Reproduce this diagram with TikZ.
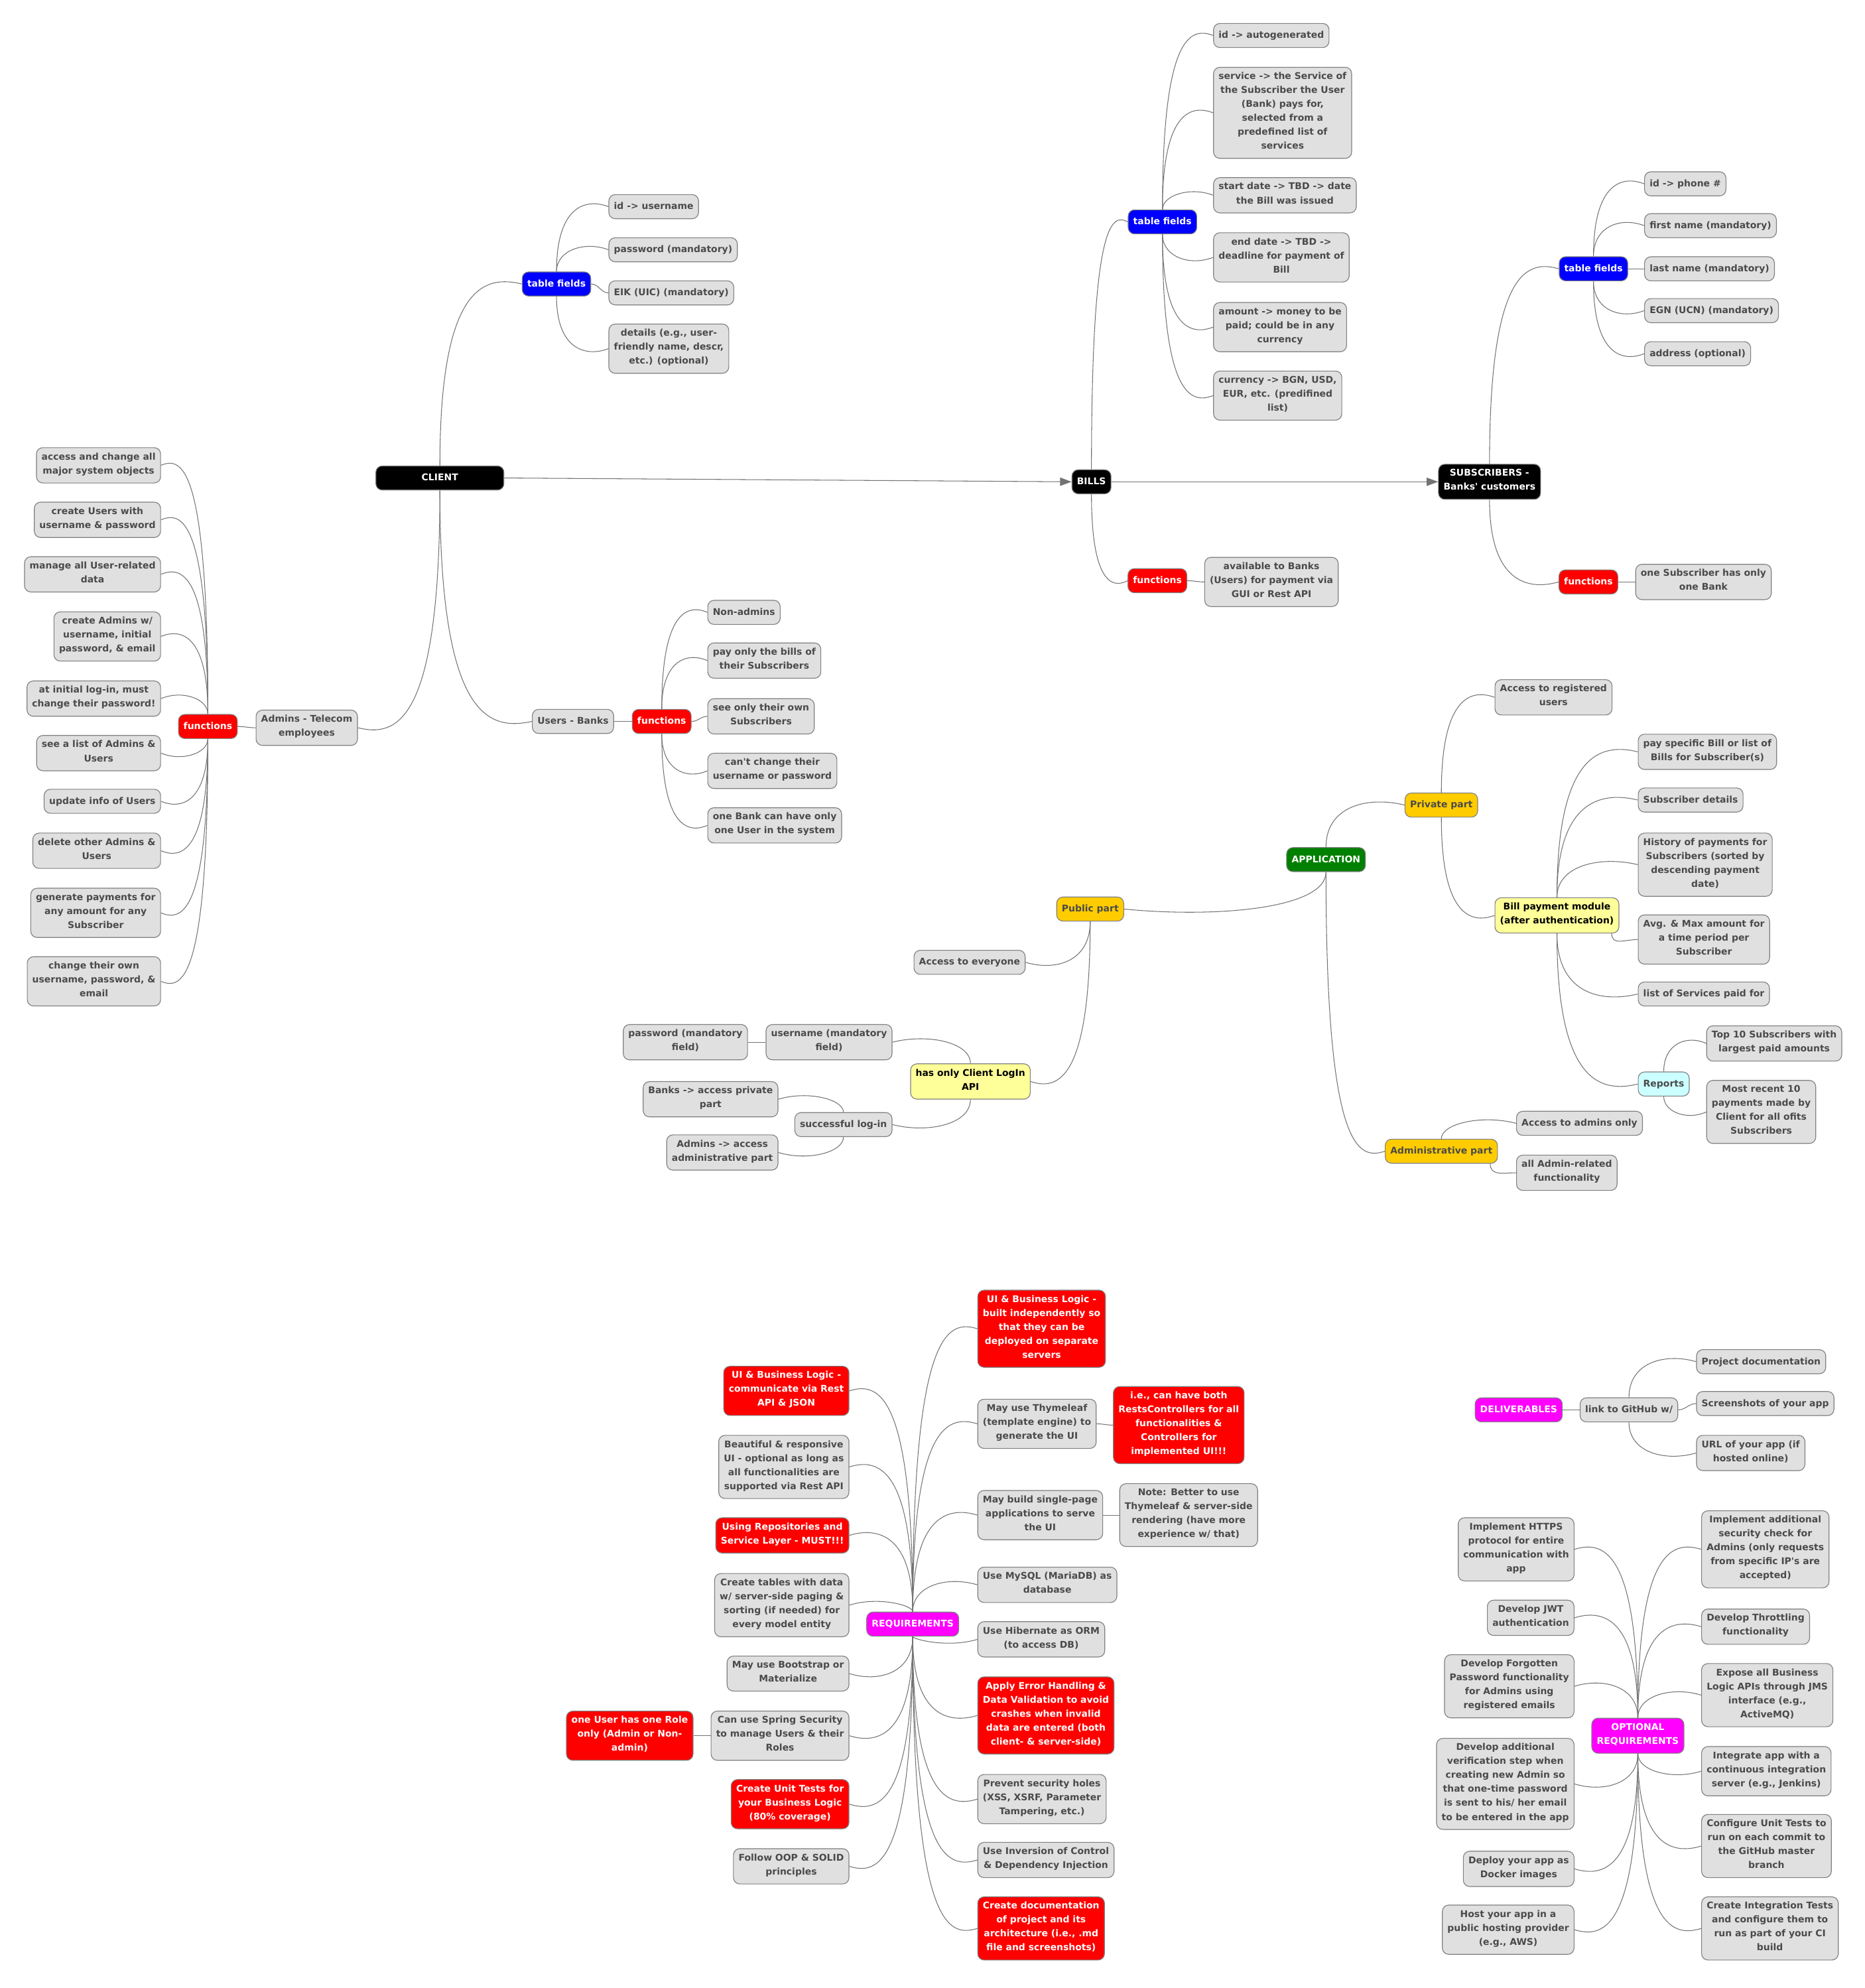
\documentclass[tikz,border=0pt]{standalone}
\usepackage{fontspec}
\setmainfont{DejaVu Sans}
\usetikzlibrary{arrows.meta,calc}

\definecolor{leafgray}{HTML}{E0E0E0}
\definecolor{edgegray}{HTML}{737373}
\definecolor{inkgray}{HTML}{4A4A4A}
\definecolor{gold}{HTML}{FFCC00}
\definecolor{paleyellow}{HTML}{FFFF99}
\definecolor{palecyan}{HTML}{CCFFFF}
\definecolor{appgreen}{HTML}{008000}
\definecolor{hotpink}{HTML}{FF00FF}

\newcommand{\mapfont}{\fontsize{7.3}{11}\selectfont\bfseries}
% curved twigs: parent #1, child #2
\newcommand{\twigNE}[2]{\draw[twig] (#1.north) .. controls (#1.north |- #2.west) and ($(#2.west)!0.45!(#1.north |- #2.west)+(0,-7)$) .. (#2.west);}
\newcommand{\twigSE}[2]{\draw[twig] (#1.south) .. controls (#1.south |- #2.west) and ($(#2.west)!0.45!(#1.south |- #2.west)+(0,7)$) .. (#2.west);}
\newcommand{\twigNW}[2]{\draw[twig] (#1.north) .. controls (#1.north |- #2.east) and ($(#2.east)!0.45!(#1.north |- #2.east)+(0,-7)$) .. (#2.east);}
\newcommand{\twigSW}[2]{\draw[twig] (#1.south) .. controls (#1.south |- #2.east) and ($(#2.east)!0.45!(#1.south |- #2.east)+(0,7)$) .. (#2.east);}
\newcommand{\twigE}[2]{\draw[twig] (#1.east) to[out=0,in=180] (#2.west);}
\newcommand{\twigW}[2]{\draw[twig] (#1.west) to[out=180,in=0] (#2.east);}
\newcommand{\twigC}[2]{\draw[twig] ([xshift=-6pt]#1.south east) .. controls +(0,10) and +(-10,0) .. (#2.west);}

\begin{document}
\begin{tikzpicture}[x=1pt, y=-1pt,
  every node/.style={font=\mapfont, align=center},
  leaf/.style={draw=gray, line width=0.6pt, rounded corners=5pt, inner xsep=4pt, inner ysep=4pt, fill=leafgray, text=inkgray,
    execute at begin node=\strut, execute at end node=\strut},
  rootbox/.style={leaf, fill=black, text=white},
  fieldbox/.style={leaf, fill=blue, text=white},
  funcbox/.style={leaf, fill=red, text=white},
  mustbox/.style={leaf, fill=red, text=white},
  partbox/.style={leaf, fill=gold},
  notebox/.style={leaf, fill=paleyellow, text=black},
  reportbox/.style={leaf, fill=palecyan},
  topicbox/.style={leaf, fill=hotpink, text=white},
  appbox/.style={leaf, fill=appgreen, text=white},
  twig/.style={draw=edgegray, line width=0.55pt},
  flow/.style={twig, -{Triangle[length=9pt,width=6.5pt]}, fill=edgegray}]
\useasboundingbox (0,0) rectangle (1471,1568);

% main chain
\node[rootbox, minimum width=101pt] (client) at (347,377) {CLIENT};
\node[rootbox] (bills) at (861,380) {BILLS};
\node[rootbox] (subs) at (1175,380) {SUBSCRIBERS -\\Banks\textquotesingle{} customers};
\draw[flow] (client.east) -- (bills.west);
\draw[flow] (bills.east) -- (subs.west);

% client table fields
\node[fieldbox] (cfields) at (439,224) {table fields};
\node[leaf, anchor=west] (cid) at (480,163) {id -> username};
\node[leaf, anchor=west] (cpass) at (480,197) {password (mandatory)};
\node[leaf, anchor=west] (ceik) at (480,231) {EIK (UIC) (mandatory)};
\node[leaf, anchor=west] (cdet) at (480,275) {details (e.g., user-\\friendly name, descr,\\etc.) (optional)};
\twigNE{client}{cfields}
\twigNE{cfields}{cid}
\twigNE{cfields}{cpass}
\twigE{cfields}{ceik}
\twigSE{cfields}{cdet}

% admins
\node[leaf] (admins) at (242,574) {Admins - Telecom\\employees};
\node[funcbox] (afunc) at (164,573) {functions};
\twigSW{client}{admins}
\twigW{admins}{afunc}
\node[leaf, anchor=east] (a1) at (127,367) {access and change all\\major system objects};
\node[leaf, anchor=east] (a2) at (127,410) {create Users with\\username \& password};
\node[leaf, anchor=east] (a3) at (127,453) {manage all User-related\\data};
\node[leaf, anchor=east] (a4) at (127,502) {create Admins w/\\username, initial\\password, \& email};
\node[leaf, anchor=east] (a5) at (127,551) {at initial log-in, must\\change their password!};
\node[leaf, anchor=east] (a6) at (127,594) {see a list of Admins \&\\Users};
\node[leaf, anchor=east] (a7) at (127,632) {update info of Users};
\node[leaf, anchor=east] (a8) at (127,671) {delete other Admins \&\\Users};
\node[leaf, anchor=east] (a9) at (127,720) {generate payments for\\any amount for any\\Subscriber};
\node[leaf, anchor=east] (a10) at (127,774) {change their own\\username, password, \&\\email};
\foreach \n in {a1,a2,a3,a4,a5} {\twigNW{afunc}{\n}}
\foreach \n in {a6,a7,a8,a9,a10} {\twigSW{afunc}{\n}}

% users
\node[leaf] (users) at (452,569) {Users - Banks};
\node[funcbox] (ufunc) at (522,569) {functions};
\twigSE{client}{users}
\twigE{users}{ufunc}
\node[leaf, anchor=west] (u1) at (558,483) {Non-admins};
\node[leaf, anchor=west] (u2) at (558,521) {pay only the bills of\\their Subscribers};
\node[leaf, anchor=west] (u3) at (558,565) {see only their own\\Subscribers};
\node[leaf, anchor=west] (u4) at (558,608) {can\textquotesingle t change their\\username or password};
\node[leaf, anchor=west] (u5) at (558,651) {one Bank can have only\\one User in the system};
\twigNE{ufunc}{u1}
\twigNE{ufunc}{u2}
\twigE{ufunc}{u3}
\twigSE{ufunc}{u4}
\twigSE{ufunc}{u5}

% bills
\node[fieldbox] (bfields) at (917,175) {table fields};
\twigNE{bills}{bfields}
\node[leaf, anchor=west] (b1) at (957,28) {id -> autogenerated};
\node[leaf, anchor=west] (b2) at (957,89) {service -> the Service of\\the Subscriber the User\\(Bank) pays for,\\selected from a\\predefined list of\\services};
\node[leaf, anchor=west] (b3) at (957,154) {start date -> TBD -> date\\the Bill was issued};
\node[leaf, anchor=west] (b4) at (957,203) {end date -> TBD ->\\deadline for payment of\\Bill};
\node[leaf, anchor=west] (b5) at (957,258) {amount -> money to be\\paid; could be in any\\currency};
\node[leaf, anchor=west] (b6) at (957,312) {currency -> BGN, USD,\\EUR, etc. (predifined\\list)};
\foreach \n in {b1,b2,b3} {\twigNE{bfields}{\n}}
\foreach \n in {b4,b5,b6} {\twigSE{bfields}{\n}}
\node[funcbox] (bfunc) at (913,458) {functions};
\node[leaf, anchor=west] (bavail) at (950,459) {available to Banks\\(Users) for payment via\\GUI or Rest API};
\twigSE{bills}{bfunc}
\twigE{bfunc}{bavail}

% subscribers
\node[fieldbox] (sfields) at (1257,212) {table fields};
\twigNE{subs}{sfields}
\node[leaf, anchor=west] (s1) at (1297,145) {id -> phone \#};
\node[leaf, anchor=west] (s2) at (1297,178) {first name (mandatory)};
\node[leaf, anchor=west] (s3) at (1297,212) {last name (mandatory)};
\node[leaf, anchor=west] (s4) at (1297,245) {EGN (UCN) (mandatory)};
\node[leaf, anchor=west] (s5) at (1297,279) {address (optional)};
\twigNE{sfields}{s1}
\twigNE{sfields}{s2}
\twigE{sfields}{s3}
\twigSE{sfields}{s4}
\twigSE{sfields}{s5}
\node[funcbox] (sfunc) at (1253,459) {functions};
\node[leaf, anchor=west] (sone) at (1290,459) {one Subscriber has only\\one Bank};
\twigSE{subs}{sfunc}
\twigE{sfunc}{sone}

% application
\node[appbox] (app) at (1046,678) {APPLICATION};
\node[partbox] (priv) at (1137,635) {Private part};
\node[leaf, anchor=west] (preg) at (1179,550) {Access to registered\\users};
\node[notebox, anchor=west] (bpm) at (1179,722) {Bill payment module\\(after authentication)};
\twigNE{app}{priv}
\twigNE{priv}{preg}
\twigSE{priv}{bpm}
\node[leaf, anchor=west] (p1) at (1292,593) {pay specific Bill or list of\\Bills for Subscriber(s)};
\node[leaf, anchor=west] (p2) at (1292,631) {Subscriber details};
\node[leaf, anchor=west] (p3) at (1292,682) {History of payments for\\Subscribers (sorted by\\descending payment\\date)};
\node[leaf, anchor=west] (p4) at (1292,741) {Avg. \& Max amount for\\a time period per\\Subscriber};
\node[leaf, anchor=west] (p5) at (1292,784) {list of Services paid for};
\node[reportbox, anchor=west] (rep) at (1292,855) {Reports};
\foreach \n in {p1,p2,p3} {\twigNE{bpm}{\n}}
\twigC{bpm}{p4}
\twigSE{bpm}{p5}
\twigSE{bpm}{rep}
\node[leaf, anchor=west] (rtop) at (1346,823) {Top 10 Subscribers with\\largest paid amounts};
\node[leaf, anchor=west] (rrec) at (1346,877) {Most recent 10\\payments made by\\Client for all ofits\\Subscribers};
\twigNE{rep}{rtop}
\twigSE{rep}{rrec}
\node[partbox] (adm) at (1137,908) {Administrative part};
\node[leaf, anchor=west] (adm1) at (1196,886) {Access to admins only};
\node[leaf, anchor=west] (adm2) at (1196,925) {all Admin-related\\functionality};
\twigSE{app}{adm}
\twigNE{adm}{adm1}
\twigC{adm}{adm2}

% public part
\node[partbox] (pub) at (860,717) {Public part};
\node[leaf, anchor=east] (pall) at (809,759) {Access to everyone};
\node[notebox, anchor=east] (login) at (813,853) {has only Client LogIn\\API};
\twigSW{app}{pub}
\twigSW{pub}{pall}
\twigSW{pub}{login}
\node[leaf, anchor=east] (luser) at (704,822) {username (mandatory\\field)};
\node[leaf, anchor=east] (lpass) at (590,822) {password (mandatory\\field)};
\node[leaf, anchor=east] (lok) at (704,887) {successful log-in};
\node[leaf, anchor=east] (lbank) at (614,867) {Banks -> access private\\part};
\node[leaf, anchor=east] (ladm) at (614,909) {Admins -> access\\administrative part};
\twigNW{login}{luser}
\twigW{luser}{lpass}
\twigSW{login}{lok}
\twigNW{lok}{lbank}
\twigSW{lok}{ladm}

% requirements
\node[topicbox] (req) at (720,1281) {REQUIREMENTS};
\node[mustbox, anchor=east] (r1) at (670,1097) {UI \& Business Logic -\\communicate via Rest\\API \& JSON};
\node[leaf, anchor=east] (r2) at (670,1157) {Beautiful \& responsive\\UI - optional as long as\\all functionalities are\\supported via Rest API};
\node[mustbox, anchor=east] (r3) at (670,1211) {Using Repositories and\\Service Layer - MUST!!!};
\node[leaf, anchor=east] (r4) at (670,1266) {Create tables with data\\w/ server-side paging \&\\sorting (if needed) for\\every model entity};
\node[leaf, anchor=east] (r5) at (670,1320) {May use Bootstrap or\\Materialize};
\node[leaf, anchor=east] (r6) at (670,1369) {Can use Spring Security\\to manage Users \& their\\Roles};
\node[mustbox, anchor=east] (r6a) at (547,1369) {one User has one Role\\only (Admin or Non-\\admin)};
\node[mustbox, anchor=east] (r7) at (670,1423) {Create Unit Tests for\\your Business Logic\\(80\% coverage)};
\node[leaf, anchor=east] (r8) at (670,1472) {Follow OOP \& SOLID\\principles};
\foreach \n in {r1,r2,r3,r4} {\twigNW{req}{\n}}
\foreach \n in {r5,r6,r7,r8} {\twigSW{req}{\n}}
\twigW{r6}{r6a}
\node[mustbox, anchor=west] (q1) at (771,1048) {UI \& Business Logic -\\built independently so\\that they can be\\deployed on separate\\servers};
\node[leaf, anchor=west] (q2) at (771,1123) {May use Thymeleaf\\(template engine) to\\generate the UI};
\node[mustbox, anchor=west] (q2a) at (878,1124) {i.e., can have both\\RestsControllers for all\\functionalities \&\\Controllers for\\implemented UI!!!};
\node[leaf, anchor=west] (q3) at (771,1195) {May build single-page\\applications to serve\\the UI};
\node[leaf, anchor=west] (q3a) at (883,1195) {Note: Better to use\\Thymeleaf \& server-side\\rendering (have more\\experience w/ that)};
\node[leaf, anchor=west] (q4) at (771,1250) {Use MySQL (MariaDB) as\\database};
\node[leaf, anchor=west] (q5) at (771,1293) {Use Hibernate as ORM\\(to access DB)};
\node[mustbox, anchor=west] (q6) at (771,1353) {Apply Error Handling \&\\Data Validation to avoid\\crashes when invalid\\data are entered (both\\client- \& server-side)};
\node[leaf, anchor=west] (q7) at (771,1419) {Prevent security holes\\(XSS, XSRF, Parameter\\Tampering, etc.)};
\node[leaf, anchor=west] (q8) at (771,1467) {Use Inversion of Control\\ \& Dependency Injection};
\node[mustbox, anchor=west] (q9) at (771,1521) {Create documentation\\of project and its\\architecture (i.e., .md\\file and screenshots)};
\foreach \n in {q1,q2,q3,q4} {\twigNE{req}{\n}}
\foreach \n in {q5,q6,q7,q8,q9} {\twigSE{req}{\n}}
\twigE{q2}{q2a}
\twigE{q3}{q3a}

% deliverables
\node[topicbox] (deliv) at (1198,1112) {DELIVERABLES};
\node[leaf] (gh) at (1285,1112) {link to GitHub w/};
\node[leaf, anchor=west] (g1) at (1338,1074) {Project documentation};
\node[leaf, anchor=west] (g2) at (1338,1107) {Screenshots of your app};
\node[leaf, anchor=west] (g3) at (1338,1146) {URL of your app (if\\hosted online)};
\twigE{deliv}{gh}
\twigNE{gh}{g1}
\twigE{gh}{g2}
\twigSE{gh}{g3}

% optional requirements
\node[topicbox] (opt) at (1292,1369) {OPTIONAL\\REQUIREMENTS};
\node[leaf, anchor=east] (o1) at (1242,1222) {Implement HTTPS\\protocol for entire\\communication with\\app};
\node[leaf, anchor=east] (o2) at (1242,1276) {Develop JWT\\authentication};
\node[leaf, anchor=east] (o3) at (1242,1330) {Develop Forgotten\\Password functionality\\for Admins using\\registered emails};
\node[leaf, anchor=east] (o4) at (1242,1407) {Develop additional\\verification step when\\creating new Admin so\\that one-time password\\is sent to his/ her email\\to be entered in the app};
\node[leaf, anchor=east] (o5) at (1242,1474) {Deploy your app as\\Docker images};
\node[leaf, anchor=east] (o6) at (1242,1522) {Host your app in a\\public hosting provider\\(e.g., AWS)};
\node[leaf, anchor=west] (o7) at (1342,1222) {Implement additional\\security check for\\Admins (only requests\\from specific IP\textquotesingle s are\\accepted)};
\node[leaf, anchor=west] (o8) at (1342,1283) {Develop Throttling\\functionality};
\node[leaf, anchor=west] (o9) at (1342,1337) {Expose all Business\\Logic APIs through JMS\\interface (e.g.,\\ActiveMQ)};
\node[leaf, anchor=west] (o10) at (1342,1397) {Integrate app with a\\continuous integration\\server (e.g., Jenkins)};
\node[leaf, anchor=west] (o11) at (1342,1456) {Configure Unit Tests to\\run on each commit to\\the GitHub master\\branch};
\node[leaf, anchor=west] (o12) at (1342,1521) {Create Integration Tests\\and configure them to\\run as part of your CI\\build};
\foreach \n in {o1,o2,o3} {\twigNW{opt}{\n}}
\foreach \n in {o4,o5,o6} {\twigSW{opt}{\n}}
\foreach \n in {o7,o8,o9} {\twigNE{opt}{\n}}
\foreach \n in {o10,o11,o12} {\twigSE{opt}{\n}}
\end{tikzpicture}
\end{document}
